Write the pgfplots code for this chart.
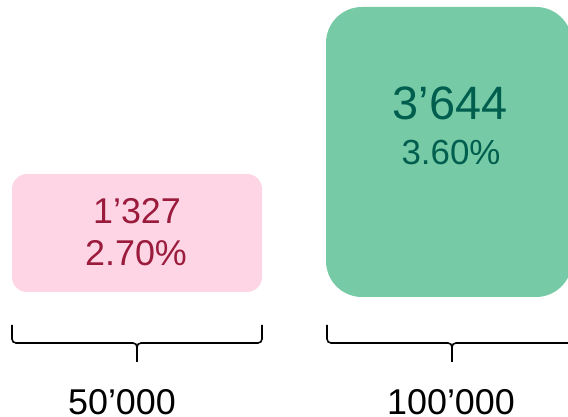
\documentclass[border=0pt]{standalone}
\usepackage{pgfplots}
\pgfplotsset{compat=1.18}
\usepackage{fontspec}
\setmainfont{Liberation Sans}
\definecolor{pinkfill}{HTML}{FDD5E5}
\definecolor{pinktext}{HTML}{9B1B3C}
\definecolor{greenfill}{HTML}{76CBA6}
\definecolor{greentext}{HTML}{005E4E}
\begin{document}
\begin{tikzpicture}
\path[use as bounding box] (0,0) rectangle (568bp,417bp);
\begin{axis}[
  at={(0,0)}, anchor=origin,
  width=568bp, height=417bp, scale only axis,
  xmin=0, xmax=568, ymin=0, ymax=417,
  hide axis, clip=true,
]
% boxes (pixel-like coordinates, y measured upward)
\addplot[fill=pinkfill, draw=none, rounded corners=15bp] coordinates {(12,125) (262,125) (262,243) (12,243)} -- cycle;
\addplot[fill=greenfill, draw=none, rounded corners=36bp] coordinates {(326,120) (572,120) (572,410) (326,410)} -- cycle;
% braces
\addplot[black, line width=1.6bp, rounded corners=4bp] coordinates {(12,92) (12,74) (137,74) (137,55)};
\addplot[black, line width=1.6bp, rounded corners=4bp] coordinates {(262,92) (262,74) (137,74) (137,55)};
\addplot[black, line width=1.6bp, rounded corners=4bp] coordinates {(327,92) (327,74) (452,74) (452,55)};
\addplot[black, line width=1.6bp, rounded corners=4bp] coordinates {(577,92) (577,74) (452,74) (452,55)};
% texts
\node[anchor=base, text=pinktext, font=\fontsize{36}{40}\selectfont] at (axis cs:137,193) {1’327};
\node[anchor=base, text=pinktext, font=\fontsize{36}{40}\selectfont] at (axis cs:136,151) {2.70\%};
\node[anchor=base, text=greentext, font=\fontsize{47}{50}\selectfont] at (axis cs:450,297) {3’644};
\node[anchor=base, text=greentext, font=\fontsize{35}{38}\selectfont] at (axis cs:451,252) {3.60\%};
\node[anchor=base, text=black, font=\fontsize{36}{40}\selectfont] at (axis cs:122,3) {50’000};
\node[anchor=base, text=black, font=\fontsize{36}{40}\selectfont] at (axis cs:451,3) {100’000};
\end{axis}
\end{tikzpicture}
\end{document}
